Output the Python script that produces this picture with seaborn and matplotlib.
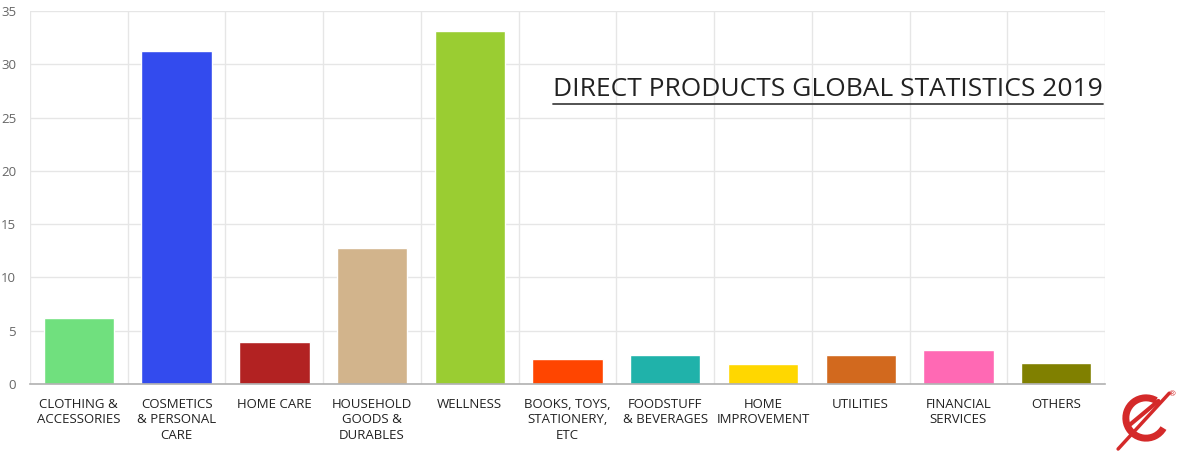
import numpy as np
import pandas as pd
import matplotlib
matplotlib.use('Agg')
import matplotlib.pyplot as plt
import seaborn as sns
from matplotlib.patches import Arc

categories = ['CLOTHING &\nACCESSORIES', 'COSMETICS\n& PERSONAL\nCARE', 'HOME CARE',
              'HOUSEHOLD\nGOODS &\nDURABLES', 'WELLNESS', 'BOOKS, TOYS,\nSTATIONERY,\nETC',
              'FOODSTUFF\n& BEVERAGES', 'HOME\nIMPROVEMENT', 'UTILITIES',
              'FINANCIAL\nSERVICES', 'OTHERS']
values = [6.2, 31.2, 3.9, 12.8, 33.1, 2.3, 2.7, 1.9, 2.7, 3.2, 2.0]
colors = ['#70E07E', '#334BEE', '#B22222', '#D2B48C', '#9ACD32', '#FF4500',
          '#20B2AA', '#FFD700', '#D2691E', '#FF69B4', '#808000']
title = 'DIRECT PRODUCTS GLOBAL STATISTICS 2019'

df = pd.DataFrame({'cat': categories, 'val': values})

sns.set_style('white')
plt.rcParams['font.family'] = ['Open Sans', 'DejaVu Sans']

fig = plt.figure(figsize=(11.83, 4.61), dpi=100)
ax = fig.add_axes([30 / 1183, 77 / 461, 1075 / 1183, 373 / 461])

sns.barplot(data=df, x='cat', y='val', hue='cat', palette=colors, legend=False,
            width=0.72, saturation=1, ax=ax)

ax.set_ylim(0, 35)
ax.set_xlim(-0.5, len(categories) - 0.5)
ax.set_yticks(range(0, 36, 5))
ax.set_xlabel('')
ax.set_ylabel('')

# grid: horizontal at y ticks, vertical at category boundaries
for y in range(5, 36, 5):
    ax.axhline(y, color='#e6e6e6', lw=1, zorder=0)
bounds = np.arange(-0.5, len(categories), 1.0)
ax.set_xticks(bounds, minor=True)
ax.grid(True, which='minor', axis='x', color='#e6e6e6', lw=1, zorder=0)
ax.set_axisbelow(True)

for s in ['top', 'right', 'left']:
    ax.spines[s].set_visible(False)
ax.spines['bottom'].set_color('#b0b0b0')
ax.spines['bottom'].set_linewidth(1.2)

ax.tick_params(axis='x', which='major', length=0, pad=10, labelsize=9.5, colors='#222222')
ax.tick_params(axis='x', which='minor', length=9, color='#e6e6e6', width=1)
ax.tick_params(axis='y', length=0, pad=10, labelsize=9.5, colors='#666666')
ax.set_xticklabels(categories, linespacing=1.25)

# title with underline
t = fig.text(1103 / 1183, 1 - 90 / 461, title, ha='right', va='center',
             fontsize=19, color='#222222')
fig.canvas.draw()
bb = t.get_window_extent()
uy = bb.y0 - 2
fig.add_artist(plt.Line2D([bb.x0 / 1183, bb.x1 / 1183], [uy / 461, uy / 461],
                          color='#444444', lw=1.3, transform=fig.transFigure))

# small logo mark in the corner
lax = fig.add_axes([1115 / 1183, 8 / 461, 62 / 1183, 70 / 461])
lax.set_xlim(-1, 1)
lax.set_ylim(-1.1, 1.1)
lax.set_aspect('equal')
lax.axis('off')
lax.add_patch(Arc((0, 0), 1.3, 1.3, theta1=60, theta2=330, lw=5, color='#d42a2a'))
lax.plot([-0.9, 0.75], [-1.0, 0.8], color='#d42a2a', lw=2.5)
lax.plot([-0.5, 0.4], [-0.2, 0.55], color='#d42a2a', lw=3)
lax.text(0.85, 0.75, '®', fontsize=6, color='#d42a2a', ha='center', va='center')

fig.savefig('out.png', dpi=100)
